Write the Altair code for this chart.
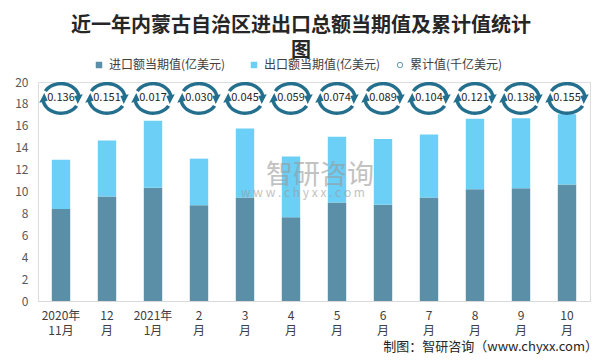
import altair as alt
import pandas as pd
import numpy as np

# ---------------- data ----------------
months = ["2020年|11月", "12|月", "2021年|1月", "2|月", "3|月", "4|月",
          "5|月", "6|月", "7|月", "8|月", "9|月", "10|月"]
import_vals = [8.4, 9.55, 10.35, 8.75, 9.45, 7.65, 9.0, 8.8, 9.45, 10.2, 10.3, 10.65]
export_vals = [4.5, 5.1, 6.1, 4.25, 6.3, 5.55, 6.0, 6.0, 5.75, 6.45, 6.4, 6.4]
cumulative = [0.136, 0.151, 0.017, 0.030, 0.045, 0.059, 0.074, 0.089, 0.104, 0.121, 0.138, 0.155]
y_ticks = [0, 2, 4, 6, 8, 10, 12, 14, 16, 18, 20]

S_IMP = "进口额当期值(亿美元)"
S_EXP = "出口额当期值(亿美元)"
S_CUM = "累计值(千亿美元)"

FONT = "Noto Sans CJK SC"
C_IMP = "#5b8fa7"
C_EXP = "#6ccff6"
C_RING = "#236f8d"

bars = pd.DataFrame(
    [{"month": m, "series": S_IMP, "value": v, "ord": 0} for m, v in zip(months, import_vals)]
    + [{"month": m, "series": S_EXP, "value": v, "ord": 1} for m, v in zip(months, export_vals)]
)
cum = pd.DataFrame({"month": months, "cum": cumulative, "series": S_CUM})


# ---------------- ring-with-arrows glyph ----------------
def ring_icon():
    rx, ry, t = 1.0, 0.82, 0.095

    def P(theta_deg, d):
        a = np.radians(theta_deg)
        return ((rx + d) * np.cos(a), -(ry + d) * np.sin(a))

    def arc(a0, a1):
        th = np.linspace(a0, a1, 24)
        pts = [P(a, t) for a in th] + [P(a, -t) for a in th[::-1]]
        return "M" + " L".join(f"{x:.3f},{y:.3f}" for x, y in pts) + " Z"

    def head(ab, at):
        b1, b2, tp = P(ab, 0.24), P(ab, -0.24), P(at, 0)
        return f"M{b1[0]:.3f},{b1[1]:.3f} L{tp[0]:.3f},{tp[1]:.3f} L{b2[0]:.3f},{b2[1]:.3f} Z"

    return " ".join([arc(150, 10), head(13, -22), arc(-30, -170), head(-167, -202)])


RING = ring_icon()

W, H = 552, 219

x_axis = alt.Axis(title=None, labelAngle=0, ticks=False, labelPadding=9,
                  labelExpr="split(datum.label, '|')", labelLineHeight=15,
                  labelFontSize=12, labelColor="#404040", labelFont=FONT,
                  domainColor="#d9d9d9", domainWidth=1, grid=False)
x_scale = alt.Scale(paddingInner=0.6, paddingOuter=0.3)
y_axis = alt.Axis(title=None, values=y_ticks, grid=False, domain=False, ticks=False,
                  labelFontSize=12, labelColor="#595959", labelFont=FONT,
                  labelPadding=10, labelOverlap=False)
y_scale = alt.Scale(domain=[0, 20], nice=False, zero=True)

xenc = alt.X("month:N", sort=months, scale=x_scale, axis=x_axis)
y_ring = alt.YDatum(18.5, scale=y_scale, axis=y_axis)

bar_legend = alt.Legend(
    orient="none", legendX=55, legendY=-23, direction="horizontal", columns=2,
    title=None, symbolType="square", symbolSize=42, labelFontSize=12,
    labelFont=FONT, labelColor="#404040", columnPadding=22, labelOffset=4,
    symbolStrokeWidth=0,
)
cum_legend = alt.Legend(
    orient="none", legendX=356, legendY=-23, direction="horizontal",
    title=None, symbolSize=30, labelFontSize=12, labelFont=FONT,
    labelColor="#404040", labelOffset=4, symbolStrokeWidth=1,
    symbolStrokeColor=C_RING, symbolFillColor="transparent",
)

bar_layer = alt.Chart(bars).mark_bar().encode(
    x=xenc,
    y=alt.Y("value:Q", stack="zero", scale=y_scale, axis=y_axis),
    color=alt.Color("series:N", scale=alt.Scale(domain=[S_IMP, S_EXP], range=[C_IMP, C_EXP]),
                    legend=bar_legend),
    order=alt.Order("ord:Q", sort="ascending"),
)

legend_dummy = alt.Chart(cum).transform_filter("false").mark_point(
    filled=False, color=C_RING, strokeWidth=1).encode(
    x=xenc,
    y=y_ring,
    shape=alt.Shape("series:N", scale=alt.Scale(domain=[S_CUM], range=["circle"]),
                    legend=cum_legend),
)

ring_layer = alt.Chart(cum).mark_point(shape=RING, filled=True, size=1300,
                                       color=C_RING, opacity=1).encode(
    x=xenc,
    y=y_ring,
)

ring_text = alt.Chart(cum).mark_text(fontSize=11, font=FONT, color="#262626").encode(
    x=xenc,
    y=y_ring,
    text=alt.Text("cum:Q", format=".3f"),
)

one = alt.Chart(cum).transform_filter("datum.cum == 0.136")
wm1 = one.mark_text(text="智研咨询", fontSize=27, font=FONT, color="#9a9a9a",
                    opacity=0.6).encode(x=alt.value(282), y=alt.value(94))
wm2 = one.mark_text(text="w w w . c h y x x . c o m", fontSize=12, font=FONT,
                    color="#9a9a9a", opacity=0.6).encode(x=alt.value(265), y=alt.value(111))
credit = one.mark_text(text="制图：智研咨询（www.chyxx.com）", fontSize=13, font=FONT,
                       color="#262626", align="right").encode(x=alt.value(560), y=alt.value(265))

chart = alt.layer(bar_layer, legend_dummy, wm1, wm2, ring_layer, ring_text, credit).properties(
    width=W, height=H,
    autosize=alt.AutoSizeParams(type="none"),
    padding={"left": 30, "top": 74, "right": 8, "bottom": 54},
    title=alt.TitleParams(
        text=["近一年内蒙古自治区进出口总额当期值及累计值统计", "图"],
        fontSize=20, font=FONT, fontWeight="bold", color="#262626",
        anchor="middle", lineHeight=25, offset=-2, dx=-13,
    ),
).resolve_scale(color="independent", shape="independent").configure_view(
    stroke=None).configure(background="white")

chart.save("out.html", embed_options={"renderer": "svg", "actions": False})
